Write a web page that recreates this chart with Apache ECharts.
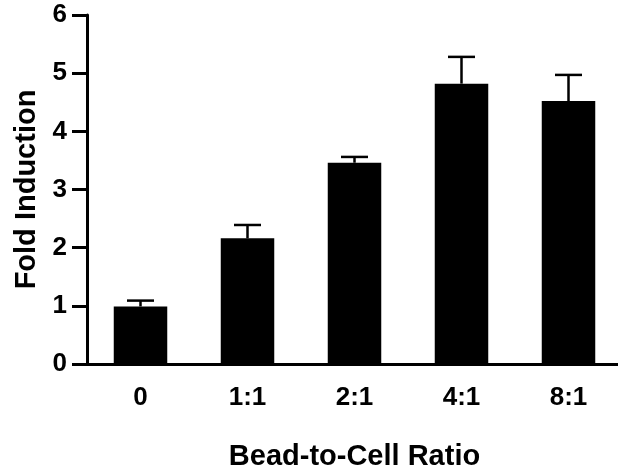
<!DOCTYPE html>
<html>
<head>
<meta charset="utf-8">
<script src="https://cdn.jsdelivr.net/npm/echarts@6/dist/echarts.min.js"></script>
<style>
  html, body { margin: 0; padding: 0; background: #fff; }
  #chart { width: 618px; height: 469px; }
</style>
</head>
<body>
<div id="chart"></div>
<script>
// ratios on the x axis
var categories = ['0', '1:1', '2:1', '4:1', '8:1']
// mean fold induction
var foldValues = [0.99, 2.16, 3.46, 4.82, 4.52]
// upper error (SD) drawn above each bar
var foldErrors = [0.10, 0.23, 0.10, 0.46, 0.45]
var yTicks = [0, 1, 2, 3, 4, 5, 6]

var errData = categories.map(function (c, i) {
  return [i, foldValues[i], foldValues[i] + foldErrors[i]]
})

var myChart = echarts.init(document.getElementById('chart'))

var options = {
  animation: false,
  textStyle: { fontFamily: 'Liberation Sans, Arial, sans-serif' },
  grid: { left: 87, right: -4, top: 15, bottom: 105, outerBoundsMode: 'none', containLabel: false },
  xAxis: {
    type: 'category',
    data: categories,
    name: 'Bead-to-Cell Ratio',
    nameLocation: 'middle',
    nameGap: 78,
    nameTextStyle: { fontSize: 29, fontWeight: 'bold', color: '#000' },
    axisLine: { lineStyle: { color: '#000', width: 3 } },
    axisTick: { alignWithLabel: true, length: 15, lineStyle: { color: '#000', width: 3 } },
    axisLabel: { fontSize: 26, fontWeight: 'bold', color: '#000', margin: 21 }
  },
  yAxis: {
    type: 'value',
    min: yTicks[0],
    max: yTicks[yTicks.length - 1],
    interval: 1,
    name: 'Fold Induction',
    nameLocation: 'middle',
    nameGap: 46,
    nameTextStyle: { fontSize: 29, fontWeight: 'bold', color: '#000' },
    axisLine: { show: true, lineStyle: { color: '#000', width: 3 } },
    axisTick: { show: true, length: 15, lineStyle: { color: '#000', width: 3 } },
    axisLabel: { fontSize: 26, fontWeight: 'bold', color: '#000', margin: 20 },
    splitLine: { show: false }
  },
  series: [{
    type: 'bar',
    data: foldValues,
    barWidth: '50%',
    itemStyle: { color: '#000' },
    z: 2
  }, {
    type: 'custom',
    data: errData,
    z: 1,
    renderItem: function (params, api) {
      var base = api.coord([api.value(0), api.value(1)])
      var top = api.coord([api.value(0), api.value(2)])
      var half = 13.5
      var style = { stroke: '#000', lineWidth: 2.5 }
      return {
        type: 'group',
        children: [{
          type: 'line',
          shape: { x1: base[0], y1: base[1], x2: top[0], y2: top[1] },
          style: style
        }, {
          type: 'line',
          shape: { x1: top[0] - half, y1: top[1], x2: top[0] + half, y2: top[1] },
          style: style
        }]
      }
    }
  }]
}

myChart.setOption(options)
</script>
</body>
</html>
